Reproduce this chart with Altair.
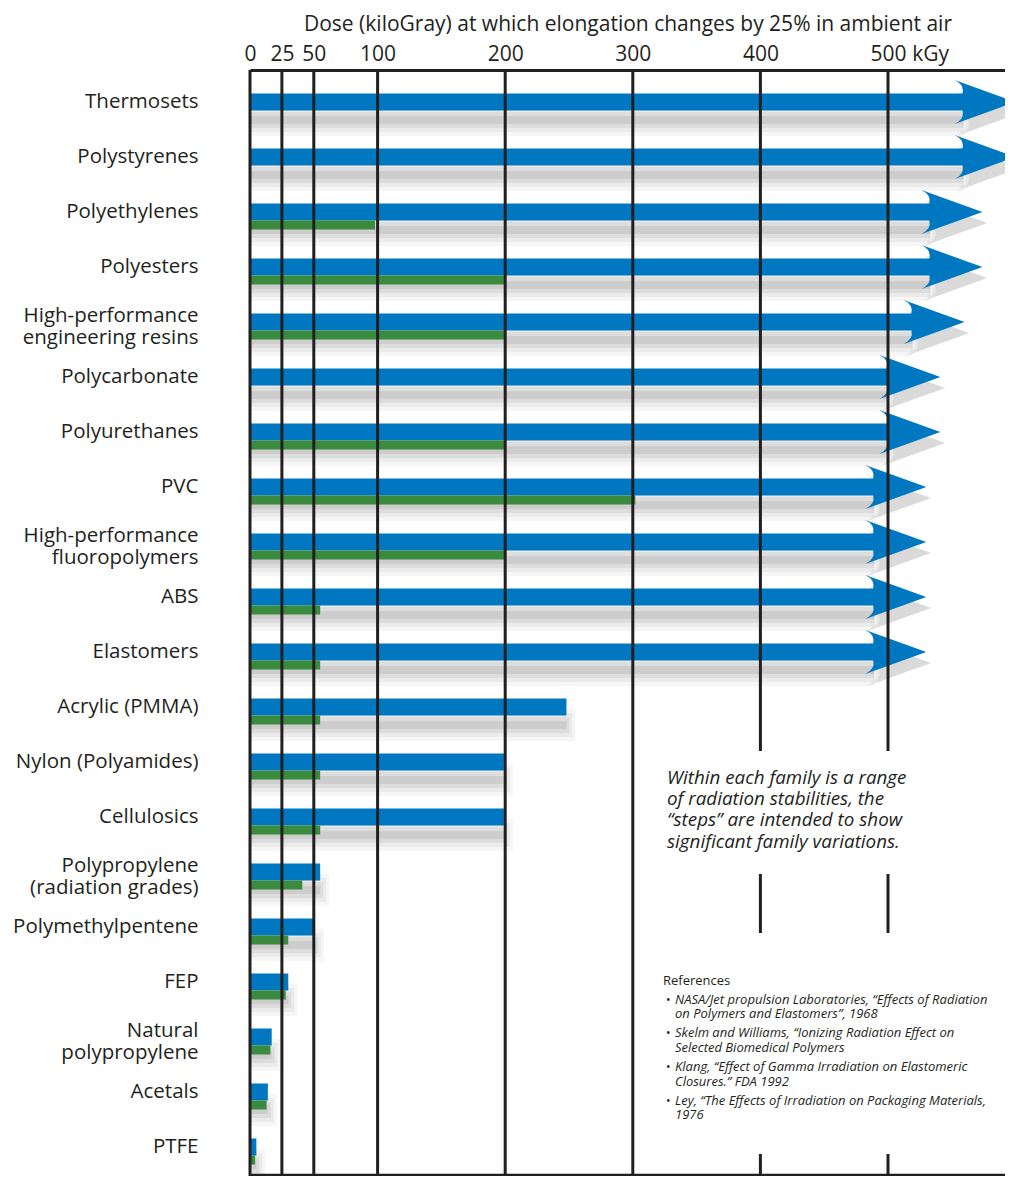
import altair as alt
import pandas as pd

materials = [
    "Thermosets", "Polystyrenes", "Polyethylenes", "Polyesters",
    "High-performance\nengineering resins", "Polycarbonate", "Polyurethanes", "PVC",
    "High-performance\nfluoropolymers", "ABS", "Elastomers", "Acrylic (PMMA)",
    "Nylon (Polyamides)", "Cellulosics", "Polypropylene\n(radiation grades)",
    "Polymethylpentene", "FEP", "Natural\npolypropylene", "Acetals", "PTFE",
]
# blue: upper dose (tip of the arrow for open-ended families)
blue_dose = [600, 600, 574, 574, 560, 541, 541, 530, 530, 530, 530,
             248, 199, 199, 55, 51, 30, 17, 14, 5]
# green: lower step within the family (None = no step shown)
green_dose = [None, None, 98, 200, 200, None, 200, 302, 200, 55, 55,
              55, 55, 55, 41, 30, 28, 16, 13, 4]
open_ended = [True] * 11 + [False] * 9

grid_values = [0, 25, 50, 100, 200, 300, 400, 500]
tick_values = [0, 25, 50, 100, 200, 300, 400, 500, 533]

note_lines = ["Within each family is a range", "of radiation stabilities, the",
              "\u201csteps\u201d are intended to show", "significant family variations."]
references = [
    ["NASA/Jet propulsion Laboratories, \u201cEffects of Radiation",
     "on Polymers and Elastomers\u201d, 1968"],
    ["Skelm and Williams, \u201cIonizing Radiation Effect on",
     "Selected Biomedical Polymers"],
    ["Klang, \u201cEffect of Gamma Irradiation on Elastomeric",
     "Closures.\u201d FDA 1992"],
    ["Ley, \u201cThe Effects of Irradiation on Packaging Materials,",
     "1976"],
]

BLUE = "#0077c1"
GREEN = "#3a8b3e"
INK = "#231f20"
FONT = "Open Sans"

df = pd.DataFrame({"material": materials, "blue": blue_dose,
                   "green": green_dose, "open": open_ended})

W, H = 755, 1106
PX_PER_KGY = 1.276
HEAD = "M 0 0 L -2 -0.72 Q -1.67 -0.56 -1.74 -0.28 L -1.74 0.28 Q -1.67 0.56 -2 0.72 Z"
HEAD_SIZE = 3721

xscale = alt.Scale(domain=[0, W / PX_PER_KGY], nice=False, zero=True)
xaxis = alt.Axis(orient="top", values=tick_values,
                 labelExpr="datum.value == 533 ? 'kGy' : datum.label",
                 grid=False, ticks=False, tickSize=0, domain=True,
                 domainColor=INK, domainWidth=3, labelFont=FONT, labelFontSize=21,
                 labelColor=INK, labelPadding=6, labelFlush=False,
                 title="Dose (kiloGray) at which elongation changes by 25% in ambient air",
                 titleFont=FONT, titleFontSize=21, titleFontWeight="normal",
                 titleColor=INK, titlePadding=9)


def X(field):
    return alt.X(field, type="quantitative", scale=xscale, axis=xaxis)


Y = alt.Y("material:N", sort=materials,
          scale=alt.Scale(paddingInner=0, paddingOuter=0.0545, align=0.75),
          axis=alt.Axis(title=None, domain=False, ticks=False, grid=False,
                        labelFont=FONT, labelFontSize=20.5, labelColor=INK,
                        labelPadding=52, labelLimit=400, labelLineHeight=22,
                        labelOffset={"condition": {"test": "indexof(datum.value, '\\n') >= 0",
                                                   "value": -6}, "value": 0},
                        labelExpr="split(datum.label, '\\n')"))

base = alt.Chart(df).transform_calculate(zero="0")
layers = []

# soft shadows under every bar (stacked translucent bands)
for s, op, ext in [(32, 0.035, 9), (24, 0.045, 6), (16, 0.06, 3), (8, 0.07, 0)]:
    layers.append(base.transform_filter("!datum.open").mark_bar(
        size=s, color="black", opacity=op, yOffset=18, x2Offset=ext).encode(
        x=X("zero"), x2="blue:Q", y=Y))
    layers.append(base.transform_filter("datum.open").mark_bar(
        size=s, color="black", opacity=op, yOffset=18, x2Offset=-52).encode(
        x=X("zero"), x2="blue:Q", y=Y))
for k, op in [(1.2, 0.04), (1.08, 0.05), (0.96, 0.06)]:
    layers.append(base.transform_filter("datum.open").mark_point(
        shape=HEAD, size=HEAD_SIZE * k, filled=True, color="black", opacity=op,
        strokeWidth=0, yOffset=11, xOffset=5).encode(x=X("blue"), y=Y))

# blue bars: plain ones end at the value, open-ended ones end in an arrow head
layers.append(base.transform_filter("!datum.open").mark_bar(
    size=17, color=BLUE).encode(x=X("zero"), x2="blue:Q", y=Y))
layers.append(base.transform_filter("datum.open").mark_bar(
    size=17, color=BLUE, x2Offset=-52).encode(x=X("zero"), x2="blue:Q", y=Y))
layers.append(base.transform_filter("datum.open").mark_point(
    shape=HEAD, size=HEAD_SIZE, filled=True, color=BLUE, opacity=1,
    strokeWidth=0).encode(x=X("blue"), y=Y))

# green step bars
layers.append(base.transform_filter("isValid(datum.green)").mark_bar(
    size=9, color=GREEN, yOffset=13).encode(x=X("zero"), x2="green:Q", y=Y))

# gridlines
grid = alt.Chart(pd.DataFrame({"g": grid_values})).mark_rule(
    color=INK, strokeWidth=3).encode(x=X("g"))
layers.append(grid)

# bottom frame line
one = alt.Data(values=[{}])
layers.append(alt.Chart(one).mark_rule(color=INK, strokeWidth=2.5).encode(
    y=alt.value(H - 1)))

# white annotation boxes (break the 400/500 gridlines)
layers.append(alt.Chart(one).mark_rect(color="white").encode(
    x=alt.value(450), x2=alt.value(650), y=alt.value(681), y2=alt.value(804)))
layers.append(alt.Chart(one).mark_rect(color="white").encode(
    x=alt.value(450), x2=alt.value(650), y=alt.value(863), y2=alt.value(1084)))

# note text
layers.append(alt.Chart(one).mark_text(
    align="left", baseline="alphabetic", font=FONT, fontStyle="italic", fontSize=18.8,
    lineHeight=21.2, color=INK).encode(
    x=alt.value(417), y=alt.value(714), text=alt.value(note_lines)))

# references
layers.append(alt.Chart(one).mark_text(
    align="left", baseline="alphabetic", font=FONT, fontSize=13, color=INK).encode(
    x=alt.value(413), y=alt.value(915), text=alt.value("References")))
for i, ref in enumerate(references):
    ybase = 933.5 + i * 33.8
    layers.append(alt.Chart(one).mark_text(
        align="left", baseline="alphabetic", font=FONT, fontSize=12, color=INK).encode(
        x=alt.value(416), y=alt.value(ybase), text=alt.value("\u2022")))
    layers.append(alt.Chart(one).mark_text(
        align="left", baseline="alphabetic", font=FONT, fontStyle="italic",
        fontSize=13, lineHeight=14.6, color=INK).encode(
        x=alt.value(425), y=alt.value(ybase), text=alt.value(ref)))

chart = alt.layer(*layers).properties(
    width=W, height=H,
    autosize=alt.AutoSizeParams(type="none"),
    padding={"left": 242, "top": 62, "right": 0, "bottom": 0},
).configure_view(stroke=None).configure(background="white")

chart.save("out.html", embed_options={"renderer": "svg", "actions": False})
